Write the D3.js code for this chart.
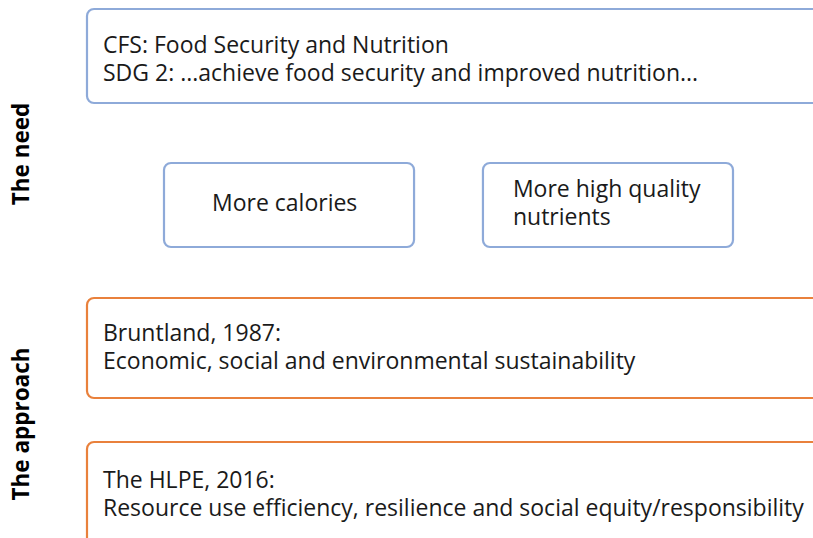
<!DOCTYPE html>
<html><head><meta charset="utf-8">
<script src="https://cdn.jsdelivr.net/npm/d3@7"></script>
<style>body{margin:0;background:#fff}svg{display:block}</style>
</head><body><svg id="c" width="813" height="538"></svg>
<script>
const sectionLabels = ["The need", "The approach"];
const needTop = ["CFS: Food Security and Nutrition", "SDG 2: ...achieve food security and improved nutrition..."];
const needSub = [["More calories"], ["More high quality", "nutrients"]];
const approach = [
  ["Bruntland, 1987:", "Economic, social and environmental sustainability"],
  ["The HLPE, 2016:", "Resource use efficiency, resilience and social equity/responsibility"]
];
const blue = "#8eaad9", orange = "#e9813c";
const svg = d3.select("#c");
const font = "'Open Sans', sans-serif";

function box(x, y, w, h, color) {
  svg.append("rect").attr("x", x).attr("y", y).attr("width", w).attr("height", h)
    .attr("rx", 7).attr("fill", "#fff").attr("stroke", color).attr("stroke-width", 2.2);
}
function lines(x, y0, arr) {
  const t = svg.append("text").attr("font-family", font).attr("font-size", 23)
    .attr("fill", "#1a1a1a");
  arr.forEach((s, i) => t.append("tspan").attr("x", x).attr("y", y0 + i * 27.8).text(s));
}

// Top need box
box(87, 9, 740, 94, blue);
lines(103, 53, needTop);
// Sub boxes
const xs = d3.scaleBand().domain(needSub.map((d, i) => i)).range([164, 733]).paddingInner(0.216);
needSub.forEach((d, i) => {
  const x = xs(i);
  box(x, 163, xs.bandwidth(), 84, blue);
  if (d.length === 1) lines(x + 48, 211, d);
  else lines(x + 30, 197, d);
});
// Approach boxes
const ys = [298, 442];
const textY = [341, 488];
approach.forEach((d, i) => {
  box(87, ys[i], 740, i === 0 ? 100 : 120, orange);
  lines(103, textY[i], d);
});
// Side labels
const labY = [154, 424];
sectionLabels.forEach((s, i) => {
  svg.append("text").attr("transform", `translate(29,${labY[i]}) rotate(-90)`)
    .attr("text-anchor", "middle").attr("font-family", font).attr("font-weight", "bold")
    .attr("font-size", 22.5).attr("fill", "#000").text(s);
});
</script></body></html>
